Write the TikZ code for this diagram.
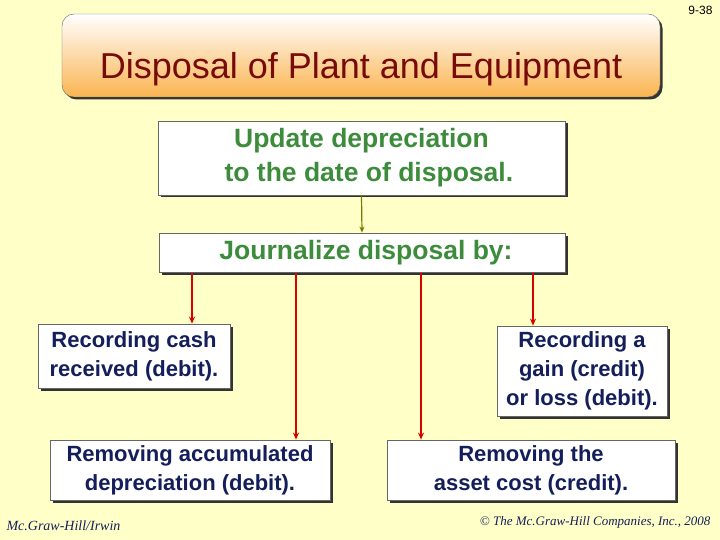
\documentclass[tikz,border=0pt]{standalone}
\usepackage{fontspec}
\setmainfont{Liberation Sans}
\newfontfamily\serifit{Liberation Serif}
\usetikzlibrary{shadows,arrows.meta}
\definecolor{bg}{RGB}{255,255,200}
\definecolor{ttl}{RGB}{120,10,10}
\definecolor{grn}{RGB}{60,140,60}
\definecolor{nvy}{RGB}{20,30,90}
\definecolor{org}{RGB}{250,180,80}
\definecolor{olv}{RGB}{120,120,0}
\begin{document}
\begin{tikzpicture}[x=1pt,y=-1pt,
  box/.style={draw=black!60,fill=white,line width=0.8pt,drop shadow={shadow xshift=2.5pt,shadow yshift=-2.5pt,fill=black!80,opacity=1},inner sep=0pt},
  txt/.style={align=center,font=\bfseries\fontsize{26.5}{34}\selectfont,text=grn},
  btxt/.style={align=center,font=\bfseries\fontsize{22}{29}\selectfont,text=nvy},
  rarr/.style={red!85!black,line width=1.6pt,-{Stealth[length=7pt,width=6pt]}}]
\fill[bg] (0,0) rectangle (720,540);
\useasboundingbox (0,0) rectangle (720,540);
\node[anchor=north east,font=\fontsize{12}{14}\selectfont] (pg) at (716,3) {9-38};
\shade[top color=white,bottom color=org,rounded corners=12pt,draw=black!60,drop shadow={shadow xshift=2.5pt,shadow yshift=-2.5pt,fill=black!80,opacity=1}] (62,14) rectangle (660,97);
\node[font=\fontsize{36}{42}\selectfont,text=ttl] (title) at (361,69) {Disposal of Plant and Equipment};
\node[box,minimum width=407pt,minimum height=74pt] (b1) at (361.5,158) {};
\node[txt] (t1) at (361.5,158) {Update depreciation\\\ \ to the date of disposal.};
\node[box,minimum width=406pt,minimum height=39pt] (b2) at (362,252.5) {};
\node[txt] (t2) at (366,252.5) {Journalize disposal by:};
\draw[olv,line width=1.2pt,-{Stealth[length=6pt,width=5pt]}] (b1.south) -- (b2.north);
\node[box,minimum width=192pt,minimum height=64pt] (b3) at (134,356) {};
\node[btxt] (t3) at (134,356) {Recording cash\\received (debit).};
\node[box,minimum width=170pt,minimum height=90pt] (b4) at (582,371) {};
\node[btxt] (t4) at (582,371) {Recording a\\gain (credit)\\or loss (debit).};
\node[box,minimum width=280pt,minimum height=60pt] (b5) at (190,470) {};
\node[btxt] (t5) at (190,470) {Removing accumulated\\depreciation (debit).};
\node[box,minimum width=288pt,minimum height=60pt] (b6) at (531,470) {};
\node[btxt] (t6) at (531,470) {Removing the\\asset cost (credit).};
\coordinate (s1) at (192,273); \coordinate (s2) at (296,273);
\coordinate (s3) at (421,273); \coordinate (s4) at (533,273);
\draw[rarr] (s1) -- (s1|-b3.north);
\draw[rarr] (s2) -- (s2|-b5.north);
\draw[rarr] (s3) -- (s3|-b6.north);
\draw[rarr] (s4) -- (s4|-b4.north);
\node[anchor=west,font=\serifit\itshape\fontsize{14}{16}\selectfont,text=nvy] (f1) at (3,526) {Mc.Graw-Hill/Irwin};
\node[anchor=east,font=\serifit\itshape\fontsize{13}{16}\selectfont,text=nvy] (f2) at (714,522) {© The Mc.Graw-Hill Companies, Inc., 2008};
\end{tikzpicture}
\end{document}
